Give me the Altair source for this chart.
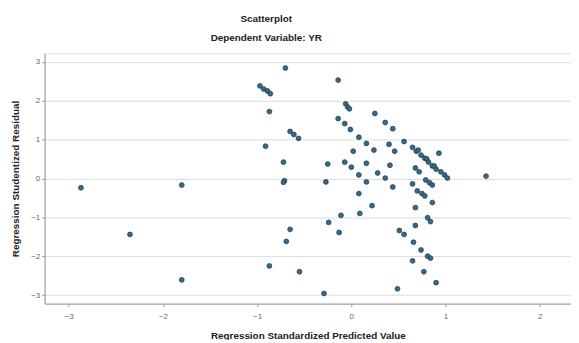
import altair as alt
import pandas as pd

pred = [-2.87, -1.80, -2.35, -1.80,
        -0.97, -0.93, -0.89, -0.86, -0.70, -0.87, -0.65, -0.61, -0.56, -0.91,
        -0.72, -0.71, -0.72, -0.65, -0.69, -0.87, -0.55,
        -0.14, -0.06, -0.04, -0.02, -0.14, -0.07, -0.01, 0.25, 0.36, 0.44,
        0.08, 0.16, 0.40, 0.56, 0.02, 0.24, 0.46, -0.25, -0.07, 0.00, 0.16,
        0.41, 0.08, 0.28, 0.16, 0.36, 0.44, -0.27, 0.08, 0.22, 0.09, -0.11,
        -0.24, -0.13, -0.29, 0.49, 0.93,
        0.65, 0.69, 0.71, 0.74, 0.78, 0.80, 0.82, 0.86, 0.88, 0.90, 0.95, 0.99, 1.02,
        0.68, 0.72, 0.79, 0.83, 0.86, 0.65, 0.70, 0.75, 0.78, 0.86, 0.68,
        0.81, 0.84, 0.68, 0.51, 0.56, 0.66, 0.74, 0.81, 0.84, 0.65, 0.77, 0.90,
        1.43]

resid = [-0.24, -0.17, -1.44, -2.61,
         2.38, 2.30, 2.25, 2.18, 2.84, 1.72, 1.21, 1.13, 1.03, 0.83,
         0.42, -0.06, -0.10, -1.31, -1.62, -2.25, -2.40,
         2.53, 1.92, 1.84, 1.79, 1.54, 1.41, 1.26, 1.67, 1.44, 1.28,
         1.06, 0.90, 0.88, 0.95, 0.70, 0.73, 0.70, 0.37, 0.42, 0.29, 0.39,
         0.34, 0.09, 0.14, -0.09, 0.01, -0.22, -0.09, -0.39, -0.70, -0.90, -0.95,
         -1.13, -1.39, -2.96, -2.84, 0.65,
         0.80, 0.70, 0.73, 0.60, 0.52, 0.50, 0.42, 0.32, 0.32, 0.24, 0.17, 0.09, 0.01,
         0.27, 0.17, -0.04, -0.11, -0.17, -0.14, -0.32, -0.39, -0.45, -0.62, -0.75,
         -1.01, -1.11, -1.21, -1.34, -1.44, -1.64, -1.84, -2.00, -2.05, -2.12, -2.40, -2.68,
         0.06]

x_ticks = [-3, -2, -1, 0, 1, 2]
y_ticks = [-3, -2, -1, 0, 1, 2, 3]

df = pd.DataFrame({"pred": pred, "resid": resid})

FONT = "Liberation Sans"

chart = alt.Chart(df).mark_circle(
    size=24, color="#336a8a", opacity=1, stroke="#25404f", strokeWidth=0.8
).encode(
    x=alt.X("pred:Q", scale=alt.Scale(domain=[-3.256, 2.332], nice=False, zero=False),
            axis=alt.Axis(values=x_ticks, grid=False, title="Regression Standardized Predicted Value",
                          format="d", tickSize=3, labelPadding=6, titlePadding=10)),
    y=alt.Y("resid:Q", scale=alt.Scale(domain=[-3.22, 3.22], nice=False, zero=False),
            axis=alt.Axis(values=y_ticks, grid=True, title="Regression Studentized Residual",
                          format="d", tickSize=3, labelPadding=2, titlePadding=10)),
).properties(
    width=532,
    height=253,
    title=alt.TitleParams(
        text="Scatterplot",
        subtitle="Dependent Variable: YR",
        anchor="middle",
        dx=-42,
        offset=10,
        fontSize=10,
        subtitleFontSize=10,
        fontWeight="bold",
        subtitleFontWeight="bold",
        font=FONT,
        subtitleFont=FONT,
        color="#222222",
        subtitleColor="#222222",
        subtitlePadding=10,
    ),
    padding={"left": 37, "top": 44, "right": 0, "bottom": 35},
    autosize=alt.AutoSizeParams(type="none"),
).configure_view(
    stroke="#dddddd", strokeWidth=1
).configure_axis(
    domainColor="#999999",
    tickColor="#999999",
    gridColor="#dcdcdc",
    labelColor="#666666",
    labelFont=FONT,
    labelFontSize=8,
    titleFont=FONT,
    titleFontSize=10,
    titleFontWeight="bold",
    titleColor="#222222",
)

chart.save("out.html", embed_options={"renderer": "svg", "actions": False})
